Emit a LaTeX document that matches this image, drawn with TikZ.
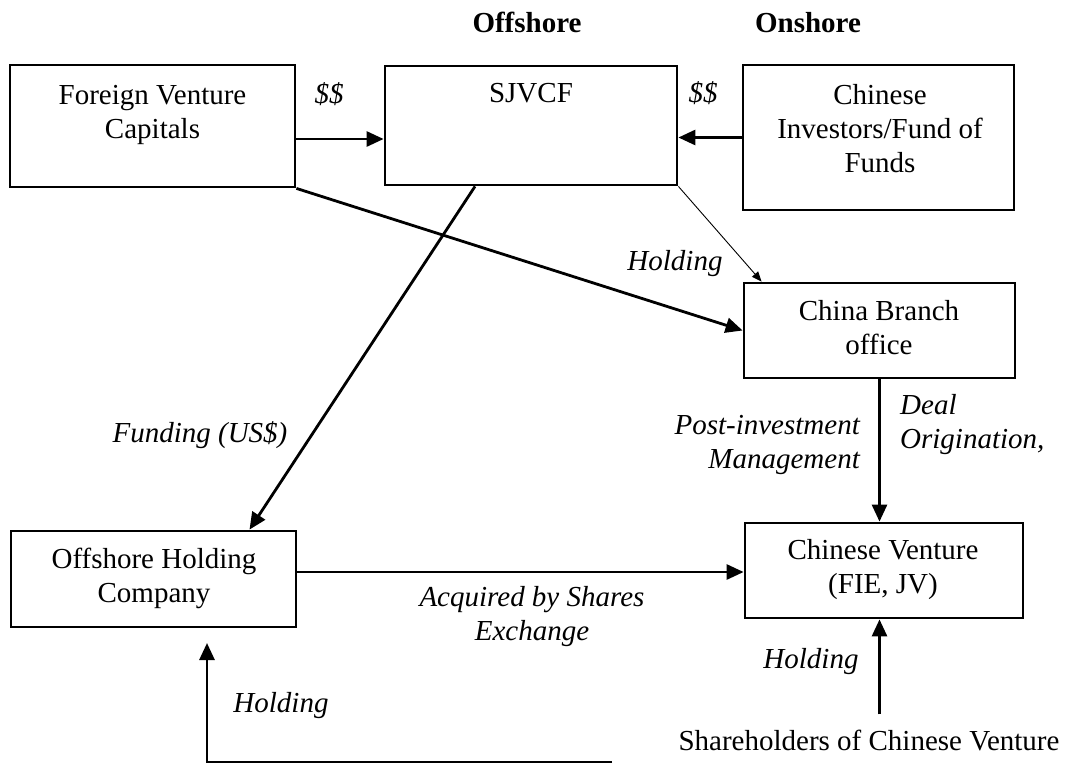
\documentclass[tikz,border=0pt]{standalone}
\usepackage{fontspec}
\setmainfont{Liberation Serif}
\usetikzlibrary{arrows.meta}
\begin{document}
\begin{tikzpicture}[x=1pt,y=-1pt,
  box/.style={draw, line width=2.8pt, inner sep=0pt},
  txt/.style={font=\fontsize{29}{34}\selectfont, align=center, inner sep=0pt, anchor=base},
  lbl/.style={font=\fontsize{29}{34}\selectfont\itshape, align=center, inner sep=0pt, anchor=base},
  head/.style={font=\fontsize{29}{34}\selectfont\bfseries, inner sep=0pt, anchor=base},
  conn/.style={line width=2.8pt, -{Triangle[length=17pt,width=15pt]}},
  thinconn/.style={line width=0.9pt, -{Triangle[length=10pt,width=8pt]}}]
\useasboundingbox (0,0) rectangle (1069,764);

% column headings
\node[head] (hoff) at (527,32) {Offshore};
\node[head] (hon)  at (808,32) {Onshore};

% boxes
\node[box, minimum width=285pt, minimum height=122pt] (fvc) at (152.5,126) {};
\node[box, minimum width=292pt, minimum height=119pt] (sjv) at (531,125.5) {};
\node[box, minimum width=271pt, minimum height=145pt] (cif) at (878.5,137.5) {};
\node[box, minimum width=271pt, minimum height=95pt]  (cbo) at (879.5,330.5) {};
\node[box, minimum width=285pt, minimum height=96pt]  (ohc) at (153.5,579) {};
\node[box, minimum width=278pt, minimum height=95pt]  (cv)  at (884,570.5) {};

% box texts (anchored at the baseline of their last line)
\node[txt] (fvc-t) at (152.5,138) {Foreign Venture\\Capitals};
\node[txt] (sjv-t) at (531,102) {SJVCF};
\node[txt] (cif-t) at (880,172) {Chinese\\Investors/Fund of\\Funds};
\node[txt] (cbo-t) at (879,354) {China Branch\\office};
\node[txt] (ohc-t) at (154,602) {Offshore Holding\\Company};
\node[txt] (cv-t)  at (883,593) {Chinese Venture\\(FIE, JV)};
\node[txt] (shv)   at (869,750) {Shareholders of Chinese Venture};

% connector labels
\node[lbl] (l-d1) at (329,103) {\$\$};
\node[lbl] (l-d2) at (703,102) {\$\$};
\node[lbl] (l-h1) at (675,270) {Holding};
\node[lbl, anchor=base east, align=right] (l-pim) at (860,468) {Post-investment\\Management};
\node[lbl, anchor=base west, align=left] (l-deal) at (900,448) {Deal\\Origination,};
\node[lbl] (l-fund) at (200,442) {Funding (US\$)};
\node[lbl] (l-acq) at (532,640) {Acquired by Shares\\Exchange};
\node[lbl] (l-h2) at (811,668) {Holding};
\node[lbl] (l-h3) at (281,712) {Holding};

% connectors
\draw[conn] ([yshift=-13pt]fvc.east) -- ([yshift=-13pt]fvc.east -| sjv.west);
\draw[conn] (cif.west) -- (cif.west -| sjv.east);
\draw[conn] (fvc.south east) -- (cbo.west);
\draw[thinconn] (sjv.south east) -- ([xshift=19pt]cbo.north west);
\draw[conn] ([xshift=-56pt]sjv.south) -- ([xshift=96pt]ohc.north);
\draw[conn] ([yshift=7pt]ohc.east) -- ([yshift=7pt]ohc.east -| cv.west);
\draw[conn] (cbo.south) -- (cbo.south |- cv.north);
\draw[conn] ([yshift=15pt]shv.north -| cbo.south) -- (cbo.south |- cv.south);

% holding line into the offshore holding company
\coordinate (hstart) at (612,762);
\coordinate (hbend)  at (207,762);
\coordinate (htip)   at (207,643);
\draw[conn] (hstart) -- (hbend) -- (htip);
\end{tikzpicture}
\end{document}
